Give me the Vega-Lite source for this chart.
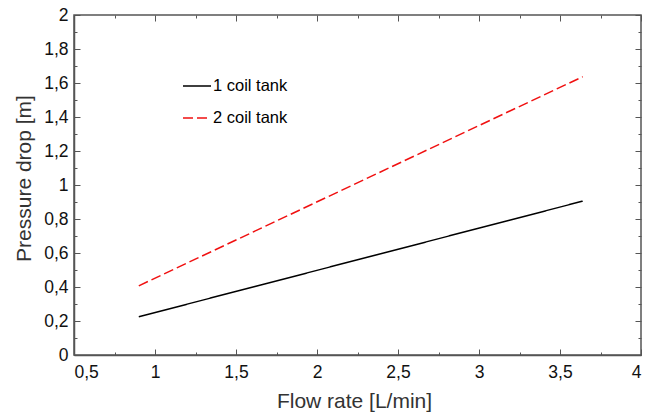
{
  "$schema": "https://vega.github.io/schema/vega-lite/v6.json",
  "width": 567,
  "height": 340,
  "autosize": {"type": "none"},
  "padding": {"left": 74, "top": 15, "right": 13, "bottom": 58},
  "background": "white",
  "config": {
    "font": "Liberation Sans",
    "view": {"stroke": "#555", "strokeWidth": 1.5},
    "axis": {"grid": false, "domainColor": "#555", "domainWidth": 1.5, "tickColor": "#555", "tickWidth": 1, "labelColor": "#111", "titleColor": "#333", "labelFont": "Liberation Sans", "titleFont": "Liberation Sans", "titleFontWeight": "normal"}
  },
  "data": {
    "values": [
      {"flow": 0.9, "drop": 0.225, "series": "1 coil tank"},
      {"flow": 3.64, "drop": 0.905, "series": "1 coil tank"},
      {"flow": 0.9, "drop": 0.407, "series": "2 coil tank"},
      {"flow": 3.64, "drop": 1.637, "series": "2 coil tank"}
    ]
  },
  "resolve": {"axis": {"x": "independent", "y": "independent"}},
  "layer": [
    {
      "transform": [{"filter": "datum.series == '1 coil tank'"}],
      "mark": {"type": "line", "strokeWidth": 1.5},
      "encoding": {
        "x": {"field": "flow", "type": "quantitative", "scale": {"domain": [0.5, 4], "nice": false, "zero": false},
          "axis": {"orient": "bottom", "title": "Flow rate [L/min]", "titleFontSize": 21, "titleBaseline": "alphabetic", "titleX": 280, "titleY": 52, "labelFontSize": 17.5, "labelPadding": 14, "domain": true,
            "values": [0.5,0.75,1,1.25,1.5,1.75,2,2.25,2.5,2.75,3,3.25,3.5,3.75,4],
            "labelExpr": "round(datum.value*4)%2==0 ? replace(toString(datum.value),'.',',') : ''",
            "tickSize": {"condition": {"test": "round(datum.value*4)%2==0", "value": -6}, "value": -3}}},
        "y": {"field": "drop", "type": "quantitative", "scale": {"domain": [0, 2], "nice": false},
          "axis": {"orient": "left", "title": "Pressure drop [m]", "titleFontSize": 21, "titleBaseline": "middle", "titleX": -50, "titleY": 163, "labelFontSize": 17.5, "labelPadding": 12, "domain": true,
            "values": [0,0.1,0.2,0.3,0.4,0.5,0.6,0.7,0.8,0.9,1,1.1,1.2,1.3,1.4,1.5,1.6,1.7,1.8,1.9,2],
            "labelExpr": "round(datum.value*10)%2==0 ? replace(toString(datum.value),'.',',') : ''",
            "tickSize": {"condition": {"test": "round(datum.value*10)%2==0", "value": -6}, "value": -3}}},
        "color": {"field": "series", "type": "nominal", "scale": {"domain": ["1 coil tank", "2 coil tank"], "range": ["#000000", "#f01010"]},
          "legend": {"title": null, "orient": "none", "legendX": 108, "legendY": 56, "symbolType": "stroke", "symbolSize": 784, "symbolStrokeWidth": 1.5, "labelFontSize": 16.5, "labelColor": "#000", "labelOffset": 1, "rowPadding": 8, "labelFont": "Liberation Sans"}},
        "strokeDash": {"field": "series", "type": "nominal", "scale": {"domain": ["1 coil tank", "2 coil tank"], "range": [[1, 0], [10, 4]]},
          "legend": {"title": null, "orient": "none", "legendX": 108, "legendY": 56, "symbolType": "stroke", "symbolSize": 784, "symbolStrokeWidth": 1.5, "labelFontSize": 16.5, "labelColor": "#000", "labelOffset": 1, "rowPadding": 8, "labelFont": "Liberation Sans"}}
      }
    },
    {
      "transform": [{"filter": "datum.series == '2 coil tank'"}],
      "mark": {"type": "line", "strokeWidth": 1.5},
      "encoding": {
        "x": {"field": "flow", "type": "quantitative", "scale": {"domain": [0.5, 4], "nice": false, "zero": false},
          "axis": {"orient": "top", "title": null, "labels": false, "domain": false,
            "values": [0.5,0.75,1,1.25,1.5,1.75,2,2.25,2.5,2.75,3,3.25,3.5,3.75,4],
            "tickSize": {"condition": {"test": "round(datum.value*4)%2==0", "value": -6}, "value": -3}}},
        "y": {"field": "drop", "type": "quantitative", "scale": {"domain": [0, 2], "nice": false},
          "axis": {"orient": "right", "title": null, "labels": false, "domain": false,
            "values": [0,0.1,0.2,0.3,0.4,0.5,0.6,0.7,0.8,0.9,1,1.1,1.2,1.3,1.4,1.5,1.6,1.7,1.8,1.9,2],
            "tickSize": {"condition": {"test": "round(datum.value*10)%2==0", "value": -6}, "value": -3}}},
        "color": {"field": "series", "type": "nominal"},
        "strokeDash": {"field": "series", "type": "nominal"}
      }
    }
  ]
}
